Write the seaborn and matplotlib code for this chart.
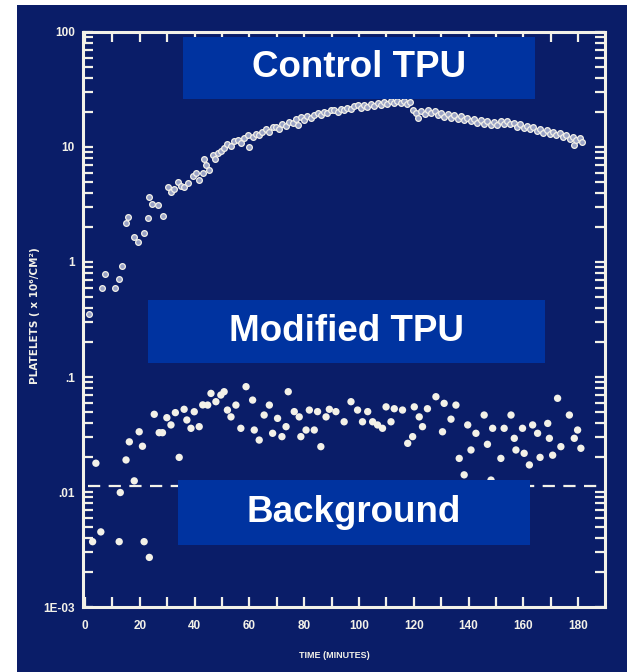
import numpy as np
import pandas as pd
import matplotlib
matplotlib.use("Agg")
import matplotlib.pyplot as plt
import matplotlib.ticker as mticker
from matplotlib.patches import Rectangle
import seaborn as sns

# %% Dados (tempo em minutos, plaquetas)
ctrl_t = [1.5, 6.1, 7.3, 11.0, 12.5, 13.4, 15.0, 15.8, 17.8, 19.3, 21.6, 22.9, 23.2, 24.3,
          26.8, 28.4, 30.2, 31.5, 32.5, 33.8, 35.0, 36.3, 37.5, 39.3, 40.5, 41.7, 43.0,
          43.5, 44.2, 45.4, 46.6, 47.5, 48.4,
          49.5, 50.8, 52.0, 53.2, 54.5, 55.7, 56.9, 58.1, 59.4, 60.0, 61.2, 62.5, 63.6,
          64.8, 66.0, 67.2, 68.5, 69.6, 70.9, 72.1, 73.3, 74.5, 75.8, 77.0, 77.6, 78.8,
          80.0, 81.2, 82.4, 83.7, 84.9, 86.1, 87.3, 88.5, 89.8, 91.0, 92.2, 93.4, 94.6,
          95.8, 97.1, 98.3, 99.5, 100.7, 101.9, 103.1, 104.3, 105.5, 106.8, 108.0, 109.2,
          110.4, 111.6, 112.8, 114.0, 115.2, 116.4, 117.6, 118.8, 119.6, 120.8, 121.6,
          122.8, 124.0, 125.2, 126.4, 127.6, 128.8, 130.0, 131.2, 132.4, 133.6, 134.8,
          136.0, 137.2, 138.4, 139.6, 140.8, 142.0, 143.2, 144.4, 145.7, 146.9, 148.1,
          149.3, 150.5, 151.7, 152.9, 154.1, 155.3, 156.5, 157.7, 158.9, 160.1, 161.3,
          162.5, 163.7, 164.9, 166.1, 167.3, 168.5, 169.7, 170.9, 172.1, 173.3, 174.5,
          175.7, 176.9, 178.1, 178.5, 179.3, 180.5, 181.5]
ctrl_v = [0.35, 0.59, 0.79, 0.60, 0.71, 0.93, 2.2, 2.45, 1.66, 1.5, 1.8, 2.4, 3.7, 3.2,
          3.13, 2.5, 4.5, 4.1, 4.3, 5.0, 4.6, 4.5, 4.9, 5.6, 5.9, 5.2, 6.0,
          7.9, 7.0, 6.3, 8.5, 7.8, 8.8,
          9.2, 9.8, 10.7, 10.1, 11.2, 11.4, 10.8, 11.9, 12.7, 10.0, 12.2, 13.1, 12.6,
          13.6, 14.2, 13.5, 14.8, 15.0, 14.4, 15.9, 15.3, 16.6, 16.1, 17.4, 15.5, 18.2,
          17.3, 18.6, 17.9, 19.0, 19.8, 18.9, 20.3, 19.6, 20.9, 21.0, 20.2, 21.6, 20.8,
          22.0, 21.3, 22.6, 23.0, 21.9, 23.4, 22.4, 23.7, 22.8, 24.1, 23.2, 24.6,
          23.6, 24.9, 23.9, 25.3, 24.2, 25.0, 23.7, 24.4, 21.0, 19.6, 17.8,
          20.4, 19.2, 21.0, 19.8, 20.6, 18.9, 19.9, 18.4, 19.5, 17.8, 18.8,
          17.6, 18.5, 17.1, 17.9, 16.8, 17.6, 16.3, 17.2, 15.9, 16.8, 15.6,
          16.4, 15.4, 16.9, 15.8, 16.9, 15.7, 16.3, 15.0, 15.9, 14.6, 15.3,
          14.2, 14.9, 13.8, 14.4, 13.3, 14.0, 12.9, 13.6, 12.6, 13.2, 12.1,
          12.8, 11.8, 12.3, 10.4, 11.4, 11.9, 11.1]

mod_t = [2.8, 5.8, 12.5, 21.6, 23.5,
         4.0, 12.9, 15.0, 16.2, 18.0, 19.8, 21.0, 25.3, 27.1, 28.3, 29.9, 31.4, 33.0, 34.4,
         36.2, 37.2, 38.7, 39.9, 41.7, 43.0, 44.8, 46.0, 47.8, 49.6, 50.8, 52.0, 53.3,
         55.1, 56.9, 58.8, 61.2, 61.8, 63.6, 65.4, 67.3, 68.5, 70.3, 71.9, 73.4, 74.2,
         76.4, 78.2, 78.8, 80.7, 81.9, 83.7, 84.9, 86.1, 88.0, 89.2, 91.6, 94.6, 97.1,
         99.5, 101.3, 103.2, 105.0, 106.8, 108.6, 109.9, 111.7, 112.9, 115.9, 117.8,
         119.6, 120.2, 122.0, 123.2, 125.0, 128.1, 130.5, 131.1, 133.6, 135.4, 136.6,
         138.4, 139.7, 140.9, 142.7, 145.7, 146.9, 148.2, 148.8, 151.8, 153.0, 155.5,
         156.7, 157.3, 159.7, 160.3, 162.2, 163.4, 165.2, 166.1, 168.9, 169.5, 170.7,
         172.5, 173.7, 176.8, 178.6, 179.8, 181.0]
mod_v = [0.0037, 0.0045, 0.0037, 0.0037, 0.0027,
         0.0178, 0.0099, 0.019, 0.0273, 0.0125, 0.0334, 0.025, 0.0474, 0.0328, 0.0328,
         0.0443, 0.0383, 0.049, 0.020, 0.0524, 0.0423, 0.0358, 0.0499, 0.037, 0.0572,
         0.057, 0.072, 0.061, 0.0697, 0.0745, 0.0516, 0.045, 0.057, 0.0358, 0.0824,
         0.063, 0.0346, 0.0283, 0.0467, 0.057, 0.0324, 0.0437, 0.0303, 0.037, 0.0745,
         0.050, 0.045, 0.0303, 0.0346, 0.0516, 0.0346, 0.050, 0.0248, 0.045, 0.0524,
         0.050, 0.0408, 0.061, 0.0516, 0.0408, 0.050, 0.0408, 0.0383, 0.0358, 0.055,
         0.0408, 0.053, 0.0516, 0.0265, 0.0303, 0.055, 0.045, 0.037, 0.053, 0.0674,
         0.0334, 0.059, 0.043, 0.057, 0.0196, 0.0141, 0.0383, 0.0232, 0.0324, 0.0467,
         0.026, 0.0127, 0.0358, 0.0196, 0.0358, 0.0467, 0.0293, 0.0232, 0.0358, 0.0217,
         0.0172, 0.0383, 0.0324, 0.020, 0.0395, 0.0293, 0.0209, 0.0653, 0.0248, 0.0467,
         0.0293, 0.0346, 0.024]

background_level = 0.0113
ytick_vals = [1e-3, 1e-2, 1e-1, 1, 10, 100]
ytick_labels = ["1E-03", ".01", ".1", "1", "10", "100"]
xtick_vals = [0, 20, 40, 60, 80, 100, 120, 140, 160, 180]
box_labels = ["Control TPU", "Modified TPU", "Background"]

# %% Cores
navy = "#0a1d68"
box_blue = "#0033a0"
ink = "#f3f1e8"

# %% Figura
fig = plt.figure(figsize=(6.27, 6.72), dpi=100, facecolor="white")
fig.add_artist(Rectangle((17 / 627, 0), 1 - 17 / 627, 1 - 5 / 672,
                         transform=fig.transFigure, facecolor=navy,
                         edgecolor="none", zorder=-10))
ax = fig.add_axes([0.1324, 0.0967, 0.8325, 0.8557])
ax.set_facecolor(navy)

df_ctrl = pd.DataFrame({"t": ctrl_t, "v": ctrl_v})
df_mod = pd.DataFrame({"t": mod_t, "v": mod_v})

sns.scatterplot(data=df_ctrl, x="t", y="v", ax=ax, s=17, color="#9aa3c6",
                edgecolor=ink, linewidth=0.9, zorder=3)
sns.scatterplot(data=df_mod, x="t", y="v", ax=ax, s=28, color=ink,
                edgecolor="none", linewidth=0, zorder=3)
ax.plot([1.0, 189.8], [background_level, background_level], color=ink,
        lw=1.6, dashes=(5.5, 3.8), zorder=2)

ax.set_yscale("log")
ax.set_xlim(-0.7, 189.8)
ax.set_ylim(1e-3, 100)

# eixos e ticks
for s in ax.spines.values():
    s.set_color(ink)
    s.set_linewidth(2.2)
tick_font = {"family": "Liberation Sans", "weight": "bold", "size": 8.5}
ax.set_xticks(xtick_vals)
ax.set_xticklabels([str(v) for v in xtick_vals], fontdict=tick_font, color=ink)
ax.xaxis.set_minor_locator(mticker.MultipleLocator(10))
ax.set_yticks(ytick_vals)
ax.set_yticklabels(ytick_labels, fontdict=tick_font, color=ink)
ax.yaxis.set_minor_locator(mticker.LogLocator(base=10, subs=np.arange(2, 10)))
ax.yaxis.set_minor_formatter(mticker.NullFormatter())
ax.tick_params(which="both", direction="in", color=ink, top=True, right=True,
               length=7, width=1.6)
ax.tick_params(axis="x", which="major", pad=9)
ax.tick_params(axis="y", which="major", pad=6)
ax.set_xlabel("")
ax.set_ylabel("")

fig.text(0.534, 0.025, "TIME (MINUTES)", color=ink, ha="center", va="center",
         family="Liberation Sans", weight="bold", size=6.5)
fig.text(0.056, 0.531, "PLATELETS ( x 10⁶/CM²)", color=ink, ha="center",
         va="center", rotation=90, family="DejaVu Sans", weight="bold", size=7.5)

# %% Caixas de rótulo
boxes = [(0.2919, 0.8527, 0.5614, 0.0923),
         (0.2360, 0.4598, 0.6332, 0.0938),
         (0.2839, 0.1890, 0.5614, 0.0967)]
for label, (x0, y0, w, h) in zip(box_labels, boxes):
    fig.add_artist(Rectangle((x0, y0), w, h, transform=fig.transFigure,
                             facecolor=box_blue, edgecolor="none", zorder=5))
    fig.text(x0 + w / 2, y0 + h / 2, label, color="white", ha="center",
             va="center", family="Liberation Sans", weight="bold", size=26.5,
             zorder=6)

fig.savefig("out.png", dpi=100, facecolor="white")
